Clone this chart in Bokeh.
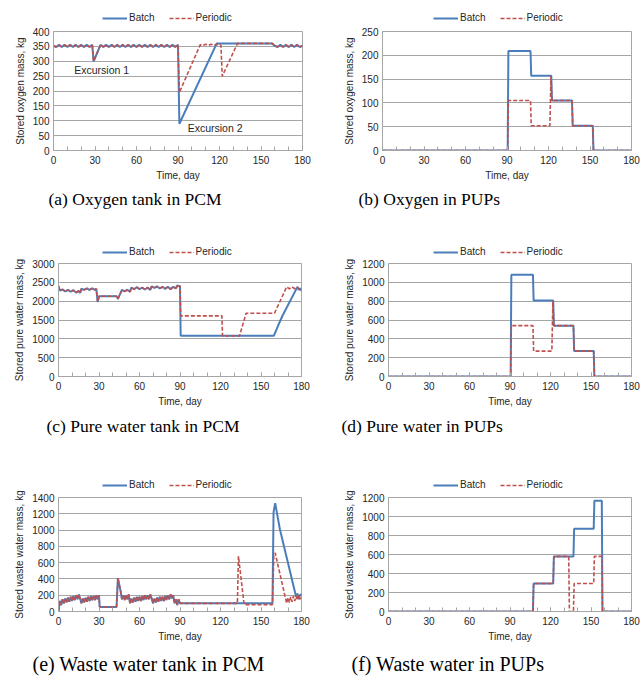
from bokeh.plotting import figure
from bokeh.layouts import column, row
from bokeh.models import Range1d, FixedTicker, Legend, LegendItem
from bokeh.core.properties import value
from bokeh.embed import file_html
from bokeh.resources import INLINE

# ---------------- data ----------------
X_TICKS = [0, 30, 60, 90, 120, 150, 180]
X_MINOR = [0, 10, 20, 30, 40, 50, 60, 70, 80, 90, 100, 110, 120, 130, 140, 150, 160, 170, 180]

# (a) Oxygen tank in PCM
O2_DAY_COMMON = [0, 2, 4, 6, 8, 10, 12, 14, 16, 18, 20, 22, 24, 26, 28, 29, 34,
                 36, 38, 40, 42, 44, 46, 48, 50, 52, 54, 56, 58, 60, 62, 64, 66, 68,
                 70, 72, 74, 76, 78, 80, 82, 84, 86, 88, 90]
O2_COMMON = [352, 348, 355, 348, 355, 348, 355, 348, 355, 348, 355, 348, 355, 348, 355, 300, 355,
             348, 355, 348, 355, 348, 355, 348, 355, 348, 355, 348, 355, 348, 355, 348, 355, 348,
             355, 348, 355, 348, 355, 348, 355, 348, 355, 348, 355]
O2_DAY_BATCH_TAIL = [91, 118, 158, 160, 162, 164, 166, 168, 170, 172, 174, 176, 178, 180]
O2_BATCH_TAIL = [90, 360, 360, 352, 348, 355, 348, 355, 348, 355, 348, 355, 348, 352]
O2_DAY_PER_TAIL = [91, 106, 108, 110, 112, 114, 116, 118, 120, 121, 122, 133, 158, 160,
                   162, 164, 166, 168, 170, 172, 174, 176, 178, 180]
O2_PER_TAIL = [195, 355, 353, 357, 353, 357, 353, 357, 353, 355, 250, 360, 360, 352,
               348, 355, 348, 355, 348, 355, 348, 355, 348, 352]

# (b) Oxygen in PUPs
O2P_DAY_BATCH = [0, 90.5, 91, 107, 107.5, 122, 122.5, 137, 137.5, 152, 152.5, 180]
O2P_BATCH = [0, 0, 209, 209, 157, 157, 105, 105, 52, 52, 0, 0]
O2P_DAY_PER = [0, 90.5, 91, 107, 107.5, 121, 121.8, 122.5, 137, 137.5, 152, 152.5, 180]
O2P_PER = [0, 0, 105, 105, 52, 52, 157, 105, 105, 52, 52, 0, 0]

# (c) Pure water tank in PCM
PW_DAY_COMMON = [0, 1, 3, 5, 7, 9, 11, 13, 15, 16, 17, 19, 21, 23, 25, 27, 28, 29, 30, 43, 44,
                 47, 49, 51, 53, 54, 56, 58, 60, 62, 64, 66, 68, 69, 71, 73, 75, 77, 79, 81,
                 83, 85, 87, 88, 89, 90]
PW_COMMON = [2400, 2280, 2310, 2260, 2300, 2250, 2290, 2230, 2270, 2220, 2330, 2300, 2340, 2300,
             2340, 2300, 2330, 1980, 2130, 2130, 2060, 2300, 2260, 2300, 2250, 2360, 2320, 2370,
             2320, 2360, 2310, 2360, 2300, 2390, 2350, 2390, 2340, 2380, 2330, 2380, 2320, 2380,
             2340, 2420, 2400, 2400]
PW_DAY_BATCH_TAIL = [90.5, 159.5, 163, 166, 177, 178, 179, 180]
PW_BATCH_TAIL = [1080, 1080, 1380, 1620, 2380, 2300, 2340, 2280]
PW_DAY_PER_TAIL = [90.5, 121, 121.5, 134, 139, 160, 169, 171, 173, 175, 177, 179, 180]
PW_PER_TAIL = [1610, 1610, 1075, 1075, 1680, 1680, 2380, 2330, 2380, 2330, 2370, 2300, 2300]

# (d) Pure water in PUPs
PWP_DAY_BATCH = [0, 90.5, 91, 107, 107.5, 122, 122.5, 137, 137.5, 152, 152.5, 180]
PWP_BATCH = [0, 0, 1080, 1080, 808, 808, 540, 540, 270, 270, 0, 0]
PWP_DAY_PER = [0, 90.5, 91, 107, 107.5, 121, 121.8, 122.5, 137, 137.5, 152, 152.5, 180]
PWP_PER = [0, 0, 540, 540, 270, 270, 808, 540, 540, 270, 270, 0, 0]

# (e) Waste water tank in PCM
WW_DAY_COMMON = (list(range(0, 31)) + [30.5, 43, 44, 46] + list(range(47, 91)))
WW_COMMON = [0, 130, 80, 150, 100, 160, 110, 170, 120, 180, 130, 190, 140, 200, 150, 210, 160,
             100, 160, 110, 170, 120, 180, 130, 190, 140, 190, 140, 200, 150, 200,
             55, 55, 410, 250,
             150, 200, 140, 200, 150, 210, 100, 160, 110, 170, 120, 180, 130, 180, 130, 190,
             140, 200, 150, 200, 150, 210, 160, 100, 160, 110, 170, 120, 180, 130, 180, 130,
             190, 140, 200, 150, 210, 160, 200, 100, 150, 80, 150, 100]
WW_DAY_BATCH_TAIL = [158.5, 159.3, 160.5, 164, 176, 177, 178, 179, 180]
WW_BATCH_TAIL = [100, 1220, 1330, 1010, 180, 220, 150, 210, 200]
WW_DAY_PER_TAIL = [132.5, 133.3, 137.5, 158.5, 159.5, 160.5, 169, 170, 171, 172, 173, 174,
                   175, 176, 177, 178, 179, 180]
WW_PER_TAIL = [100, 680, 85, 85, 690, 720, 100, 170, 110, 180, 120, 190, 130, 190, 140, 200,
               150, 200]

# (f) Waste water in PUPs
WWP_DAY_BATCH = [0, 107, 107.5, 122, 122.5, 137, 137.5, 152, 152.5, 158, 158.5, 180]
WWP_BATCH = [0, 0, 295, 295, 580, 580, 870, 870, 1165, 1165, 0, 0]
WWP_DAY_PER = [0, 107, 107.5, 122, 122.5, 133.5, 134, 137, 137.5, 152, 152.5, 158, 158.5, 180]
WWP_PER = [0, 0, 295, 295, 580, 580, 0, 0, 295, 295, 580, 580, 0, 0]

Y_TICKS_O2 = [0, 50, 100, 150, 200, 250, 300, 350, 400]
Y_TICKS_O2P = [0, 50, 100, 150, 200, 250]
Y_TICKS_PW = [0, 500, 1000, 1500, 2000, 2500, 3000]
Y_TICKS_1200 = [0, 200, 400, 600, 800, 1000, 1200]
Y_TICKS_1400 = [0, 200, 400, 600, 800, 1000, 1200, 1400]

SERIES_NAMES = ["Batch", "Periodic"]

# ---------------- style ----------------
BLUE = "#4a7ebb"
RED = "#c0504d"
GRID = "#a6a6a6"
TXT = "#262626"
SANS = "Liberation Sans"
SERIF = "Liberation Serif"


def make_legend_fig(batch, per, bl, fw, br, h, leg_x):
    # legend strip above a panel; it carries the panel's series, kept outside its view
    p = figure(width=bl + fw + br, height=h, min_border_left=bl, min_border_right=br,
               min_border_top=0, min_border_bottom=0,
               x_range=Range1d(-20, -10), y_range=Range1d(0, 1),
               x_axis_type=None, y_axis_type=None,
               output_backend="svg", toolbar_location=None)
    p.outline_line_color = None
    p.grid.visible = False
    p.background_fill_color = "white"
    p.border_fill_color = "white"
    rb = p.line(batch[0], batch[1], line_color=BLUE, line_width=2)
    rp = p.line(per[0], per[1], line_color=RED, line_width=1.6, line_dash="4 2")
    leg = Legend(items=[LegendItem(label=SERIES_NAMES[0], renderers=[rb]),
                        LegendItem(label=SERIES_NAMES[1], renderers=[rp])],
                 orientation="horizontal", location=(leg_x, 1),
                 label_text_font=SANS, label_text_font_size="10px", label_text_color=TXT,
                 glyph_width=25, glyph_height=10, label_height=10, label_standoff=2,
                 spacing=14, padding=0, margin=0,
                 border_line_alpha=0, background_fill_alpha=0)
    p.add_layout(leg)
    return p


def make_panel(caption, ylabel, yticks, batch, per, fw, fh, bl, br, bt, bb,
               cap_offset, cap_size, cap_standoff, notes=()):
    p = figure(width=bl + fw + br, height=bt + fh + bb,
               min_border_left=bl, min_border_right=br,
               min_border_top=bt, min_border_bottom=bb,
               x_range=Range1d(0, 180), y_range=Range1d(yticks[0], yticks[-1]),
               output_backend="svg", toolbar_location=None,
               title=caption, title_location="below")
    p.background_fill_color = "white"
    p.border_fill_color = "white"
    p.outline_line_color = GRID
    p.outline_line_width = 1

    p.title.text_font = SERIF
    p.title.text_font_size = cap_size
    p.title.text_font_style = "normal"
    p.title.text_color = "black"
    p.title.align = "left"
    p.title.offset = cap_offset
    p.title.standoff = cap_standoff

    p.line(batch[0], batch[1], line_color=BLUE, line_width=2)
    p.line(per[0], per[1], line_color=RED, line_width=1.6, line_dash="4 2")

    xa = p.xaxis[0]
    xa.ticker = FixedTicker(ticks=X_TICKS, minor_ticks=X_MINOR)
    xa.axis_label = "Time, day"
    ya = p.yaxis[0]
    ya.ticker = FixedTicker(ticks=yticks)
    ya.axis_label = ylabel
    for ax in (xa, ya):
        ax.axis_line_color = GRID
        ax.major_tick_line_color = GRID
        ax.minor_tick_line_color = GRID
        ax.major_label_text_font = SANS
        ax.major_label_text_font_size = "10px"
        ax.major_label_text_color = TXT
        ax.axis_label_text_font = SANS
        ax.axis_label_text_font_size = "10px"
        ax.axis_label_text_font_style = "normal"
        ax.axis_label_text_color = TXT
    xa.major_tick_in = 4
    xa.major_tick_out = 0
    xa.minor_tick_in = 4
    xa.minor_tick_out = 0
    xa.major_label_standoff = 5
    xa.axis_label_standoff = 3
    ya.major_tick_in = 0
    ya.major_tick_out = 0
    ya.minor_tick_line_color = None
    ya.major_label_standoff = 4
    ya.axis_label_standoff = 4

    p.xgrid.visible = False
    p.ygrid.ticker = FixedTicker(ticks=yticks)
    p.ygrid.grid_line_color = GRID
    p.ygrid.grid_line_width = 1

    for (tx, ty, t) in notes:
        p.text(x=[tx], y=[ty], text=[t], text_font=value(SANS), text_font_size="10.5px",
               text_color=TXT, text_baseline="middle", text_align="left")
    return p


EXC1 = (15, 269, "Excursion 1")
EXC2 = (97, 75, "Excursion 2")

A_B = (O2_DAY_COMMON + O2_DAY_BATCH_TAIL, O2_COMMON + O2_BATCH_TAIL)
A_P = (O2_DAY_COMMON + O2_DAY_PER_TAIL, O2_COMMON + O2_PER_TAIL)
B_B = (O2P_DAY_BATCH, O2P_BATCH)
B_P = (O2P_DAY_PER, O2P_PER)
C_B = (PW_DAY_COMMON + PW_DAY_BATCH_TAIL, PW_COMMON + PW_BATCH_TAIL)
C_P = (PW_DAY_COMMON + PW_DAY_PER_TAIL, PW_COMMON + PW_PER_TAIL)
D_B = (PWP_DAY_BATCH, PWP_BATCH)
D_P = (PWP_DAY_PER, PWP_PER)
E_B = (WW_DAY_COMMON + WW_DAY_BATCH_TAIL, WW_COMMON + WW_BATCH_TAIL)
E_P = (WW_DAY_COMMON + WW_DAY_PER_TAIL, WW_COMMON + WW_PER_TAIL)
F_B = (WWP_DAY_BATCH, WWP_BATCH)
F_P = (WWP_DAY_PER, WWP_PER)

# row 1
la = make_legend_fig(A_B, A_P, 53, 249, 19, 24, 49)
lb = make_legend_fig(B_B, B_P, 61, 249, 9, 24, 51)
pa = make_panel("(a) Oxygen tank in PCM", "Stored oxygen mass, kg", Y_TICKS_O2, A_B, A_P,
                249, 119, 53, 19, 7, 70, -5, "17.5px", 7, notes=(EXC1, EXC2))
pb = make_panel("(b) Oxygen in PUPs", "Stored oxygen mass, kg", Y_TICKS_O2P, B_B, B_P,
                249, 123, 61, 9, 3, 70, -24, "17.5px", 7)
# row 2
lc = make_legend_fig(C_B, C_P, 58, 243, 20, 38, 44)
ld = make_legend_fig(D_B, D_P, 67, 243, 9, 38, 45)
pc = make_panel("(c) Pure water tank in PCM", "Stored pure water mass, kg", Y_TICKS_PW,
                C_B, C_P, 243, 121, 58, 20, 4, 57, -12, "17.5px", 9)
pd_ = make_panel("(d) Pure water in PUPs", "Stored pure water mass, kg", Y_TICKS_1200,
                 D_B, D_P, 243, 120, 67, 9, 5, 57, -47, "17.5px", 9)
# row 3
le = make_legend_fig(E_B, E_P, 58, 243, 20, 51, 44)
lf = make_legend_fig(F_B, F_P, 67, 243, 9, 51, 45)
pe = make_panel("(e) Waste water tank in PCM", "Stored waste water mass, kg", Y_TICKS_1400,
                E_B, E_P, 243, 119, 58, 20, 6, 64, -26, "20px", 12)
pf = make_panel("(f) Waste water in PUPs", "Stored waste water mass, kg", Y_TICKS_1200,
                F_B, F_P, 243, 121, 67, 9, 4, 64, -37, "20px", 12)

layout = column(row(la, lb), row(pa, pb), row(lc, ld), row(pc, pd_),
                row(le, lf), row(pe, pf))
open("out.html", "w").write(file_html(layout, INLINE))
